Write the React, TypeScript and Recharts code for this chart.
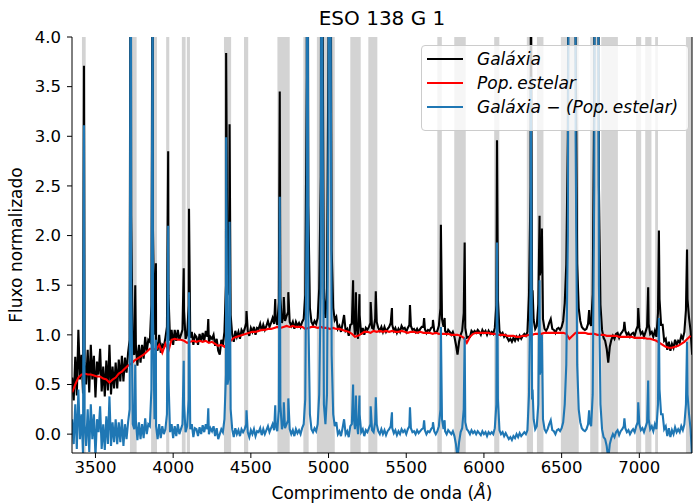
import { LineChart, Line, XAxis, YAxis, ReferenceArea } from "recharts"

const FONT = "'DejaVu Sans', 'Liberation Sans', sans-serif"

// regular 10 Å grid for the observed spectrum and the residual
const gridStart = 3350
const gridStep = 10

// Galáxia (observed, normalised flux), 3350 .. 7340 Å
const galaxyFlux = [
  0.57, 0.34, 0.78, 0.39, 1.05, 0.55, 0.80, 0.41, 0.72, 0.50,
  0.85, 0.42, 0.90, 0.55, 0.79, 0.37, 0.73, 0.60, 0.86, 0.43,
  0.68, 0.38, 0.74, 0.44, 0.90, 0.40, 0.68, 0.46, 0.72, 0.46,
  0.75, 0.53, 0.79, 0.53, 0.77, 0.62, 0.82, 0.95, 2.20, 0.83,
  0.80, 0.90, 0.69, 0.90, 0.72, 0.90, 0.76, 0.98, 0.83, 0.95,
  0.93, 1.30, 2.05, 1.00, 0.93, 0.84, 1.00, 0.82, 0.90, 0.88,
  0.97, 1.08, 1.40, 0.94, 1.05, 0.90, 1.05, 0.94, 1.05, 0.95,
  1.00, 1.05, 1.24, 0.96, 1.00, 1.30, 0.97, 1.03, 0.90, 1.00,
  0.98, 0.90, 1.01, 0.93, 1.02, 0.94, 1.04, 0.98, 0.92, 0.98,
  0.96, 1.00, 0.89, 0.96, 0.84, 0.80, 0.95, 0.90, 1.03, 1.50,
  1.40, 1.50, 1.20, 1.00, 0.93, 1.04, 0.98, 1.03, 0.96, 1.05,
  1.02, 1.06, 1.12, 1.04, 0.99, 1.07, 1.03, 1.08, 1.00, 1.07,
  1.06, 1.11, 1.04, 1.10, 1.05, 1.09, 1.14, 1.08, 1.12, 1.17,
  1.11, 1.17, 1.10, 1.33, 1.37, 1.12, 1.20, 1.14, 1.19, 1.23,
  1.13, 1.09, 1.13, 1.06, 1.13, 1.09, 1.12, 1.08, 1.13, 1.16,
  1.40, 3.60, 2.30, 1.27, 1.13, 1.10, 1.14, 1.11, 1.17, 1.47,
  2.60, 5.00, 1.37, 1.17, 1.47, 4.07, 7.06, 1.86, 1.27, 1.15,
  1.18, 1.06, 1.09, 1.03, 1.11, 1.20, 1.04, 1.06, 0.99, 1.10,
  1.11, 1.20, 1.00, 1.10, 0.96, 1.20, 1.00, 1.07, 1.00, 1.07,
  1.05, 1.08, 1.12, 1.07, 1.06, 1.16, 1.13, 1.07, 1.04, 1.08,
  1.03, 1.08, 1.03, 1.06, 1.08, 1.12, 1.10, 1.04, 1.07, 1.02,
  1.06, 1.03, 1.09, 1.06, 1.07, 1.03, 1.07, 1.10, 1.09, 1.05,
  1.06, 1.03, 1.06, 1.03, 1.06, 1.08, 1.08, 1.06, 1.02, 1.05,
  1.04, 1.07, 1.08, 1.04, 1.02, 1.04, 1.09, 1.27, 1.16, 1.08,
  1.04, 1.01, 1.05, 1.03, 1.00, 1.03, 0.98, 0.90, 0.80, 0.93,
  1.00, 1.04, 1.22, 1.07, 0.97, 0.98, 0.98, 1.04, 1.02, 1.04,
  1.02, 1.05, 1.03, 1.00, 1.05, 1.02, 1.04, 1.00, 1.04, 1.01,
  1.03, 1.01, 1.07, 1.30, 1.35, 1.04, 1.00, 1.02, 0.98, 1.00,
  0.97, 0.94, 0.96, 0.93, 0.97, 0.94, 0.98, 0.95, 0.99, 0.96,
  0.99, 1.01, 0.99, 1.03, 1.40, 2.50, 1.35, 1.15, 1.06, 1.09,
  1.31, 1.60, 1.70, 1.16, 1.06, 1.04, 1.07, 1.12, 1.16, 1.06,
  1.05, 1.02, 1.06, 1.07, 1.05, 1.08, 1.14, 1.32, 1.71, 2.99,
  6.96, 16.97, 10.0, 15.0, 4.00, 1.72, 1.27, 1.14, 1.08, 1.06,
  1.05, 1.06, 1.11, 1.13, 1.09, 1.41, 3.50, 7.00, 9.00, 2.50,
  1.30, 1.05, 0.97, 0.94, 0.86, 0.72, 0.88, 0.95, 0.99, 0.96,
  1.01, 1.02, 0.97, 1.01, 1.03, 1.06, 1.04, 1.00, 1.02, 0.98,
  1.01, 1.02, 0.99, 1.05, 1.09, 1.07, 1.01, 1.03, 0.98, 1.03,
  1.08, 1.11, 1.01, 1.03, 0.98, 1.04, 0.98, 1.22, 1.36, 1.10,
  1.10, 0.94, 0.96, 0.85, 0.93, 0.84, 0.91, 0.87, 0.95, 0.90,
  0.94, 0.92, 0.99, 0.96, 1.03, 1.25, 1.36, 1.17, 1.04, 0.80,
]

// Galáxia - (Pop. estelar), same grid
const residualFlux = [
  0.15, -0.10, 0.30, -0.15, 0.45, -0.05, 0.20, -0.20, 0.10, -0.12,
  0.25, -0.18, 0.30, -0.05, 0.20, -0.22, 0.15, 0.02, 0.28, -0.15,
  0.10, -0.16, 0.18, -0.10, 0.38, -0.12, 0.12, -0.08, 0.15, -0.10,
  0.12, -0.08, 0.15, -0.12, 0.10, -0.05, 0.12, 0.25, 1.50, 0.10,
  0.05, 0.14, -0.06, 0.12, -0.05, 0.10, -0.04, 0.16, 0.00, 0.10,
  0.08, 0.45, 1.20, 0.15, 0.08, -0.05, 0.10, -0.04, 0.08, 0.00,
  0.05, 0.20, 0.55, 0.02, 0.10, -0.04, 0.08, -0.02, 0.10, 0.00,
  0.05, 0.10, 0.30, 0.02, 0.08, 0.35, 0.05, 0.10, -0.03, 0.06,
  0.05, -0.02, 0.07, 0.00, 0.09, 0.02, 0.10, 0.05, 0.00, 0.06,
  0.03, 0.08, -0.02, 0.06, -0.05, 0.00, 0.05, 0.02, 0.15, 0.60,
  0.50, 0.60, 0.25, 0.05, -0.03, 0.06, 0.00, 0.04, -0.02, 0.05,
  0.02, 0.05, 0.10, 0.02, -0.03, 0.04, 0.00, 0.05, -0.02, 0.03,
  0.02, 0.06, -0.01, 0.05, 0.00, 0.04, 0.08, 0.02, 0.06, 0.10,
  0.04, 0.10, 0.03, 0.25, 0.30, 0.05, 0.12, 0.06, 0.10, 0.14,
  0.05, 0.00, 0.04, -0.02, 0.05, 0.01, 0.04, 0.00, 0.06, 0.10,
  0.35, 2.50, 1.20, 0.20, 0.05, 0.02, 0.06, 0.03, 0.10, 0.40,
  1.50, 4.00, 0.30, 0.10, 0.40, 3.00, 6.00, 0.80, 0.20, 0.08,
  0.12, 0.00, 0.03, -0.02, 0.06, 0.15, 0.00, 0.03, -0.03, 0.08,
  0.10, 0.20, 0.05, 0.15, 0.00, 0.20, 0.02, 0.05, -0.02, 0.04,
  0.02, 0.06, 0.10, 0.04, 0.02, 0.12, 0.10, 0.03, 0.00, 0.05,
  0.00, 0.04, -0.01, 0.03, 0.05, 0.08, 0.06, 0.01, 0.04, -0.01,
  0.03, 0.00, 0.05, 0.02, 0.04, 0.00, 0.05, 0.08, 0.06, 0.02,
  0.03, 0.00, 0.04, 0.01, 0.03, 0.05, 0.06, 0.04, 0.00, 0.03,
  0.02, 0.05, 0.07, 0.03, 0.00, 0.03, 0.08, 0.25, 0.15, 0.05,
  0.03, 0.00, 0.04, 0.02, 0.00, 0.03, -0.02, -0.10, -0.25, -0.08,
  0.02, 0.06, 0.25, 0.12, 0.05, 0.03, 0.00, 0.04, 0.01, 0.03,
  0.00, 0.03, 0.01, -0.01, 0.03, 0.00, 0.02, -0.02, 0.02, 0.00,
  0.02, 0.00, 0.06, 0.30, 0.35, 0.04, 0.00, 0.02, -0.02, 0.01,
  -0.02, -0.05, -0.03, -0.06, -0.02, -0.04, 0.00, -0.03, 0.01, -0.02,
  0.00, 0.02, 0.00, 0.04, 0.40, 1.50, 0.35, 0.15, 0.05, 0.08,
  0.30, 0.60, 0.70, 0.15, 0.05, 0.02, 0.05, 0.10, 0.14, 0.04,
  0.03, 0.00, 0.04, 0.05, 0.03, 0.06, 0.12, 0.30, 0.70, 2.00,
  6.00, 16.0, 9.00, 14.0, 3.00, 0.70, 0.25, 0.12, 0.06, 0.04,
  0.03, 0.05, 0.10, 0.12, 0.08, 0.40, 2.50, 6.00, 8.00, 1.50,
  0.30, 0.05, -0.03, -0.05, -0.12, -0.25, -0.10, -0.04, 0.00, -0.03,
  0.02, 0.04, -0.01, 0.03, 0.05, 0.08, 0.06, 0.02, 0.04, 0.00,
  0.03, 0.05, 0.02, 0.08, 0.12, 0.10, 0.04, 0.06, 0.02, 0.07,
  0.12, 0.15, 0.05, 0.08, 0.03, 0.10, 0.05, 0.30, 0.45, 0.20,
  0.20, 0.05, 0.08, -0.02, 0.06, -0.03, 0.04, 0.00, 0.07, 0.02,
  0.05, 0.02, 0.08, 0.04, 0.10, 0.30, 0.40, 0.20, 0.05, -0.25,
]

// emission line peaks (Å), sitting between grid points
const lineWave = [
  3426, 3727, 3756, 3868, 3889, 3968, 4068, 4102, 4226, 4341, 4363, 4472,
  4657, 4686, 4712, 4741, 4862, 4958, 5007, 5158, 5176, 5199, 5271, 5304,
  5408, 5524, 5615, 5672, 5723, 5747, 5876, 6084, 6302, 6313, 6358, 6373,
  6548, 6563, 6584, 6677, 6716, 6731, 6904, 6993, 7057, 7126, 7307,
]
const lineGalaxy = [
  3.71, 6.6, 1.5, 5.6, 1.72, 2.85, 1.67, 2.27, 1.16, 3.84, 3.12, 1.24,
  1.36, 3.45, 1.38, 1.43, 9.0, 11.0, 30.0, 1.55, 1.43, 1.41, 1.33, 1.44,
  1.27, 1.3, 1.17, 1.15, 2.11, 1.17, 1.93, 2.96, 4.6, 1.45, 2.2, 2.07,
  8.0, 26.0, 19.0, 1.25, 9.0, 9.0, 1.13, 1.27, 1.48, 2.05, 1.86,
]
const lineResidual = [
  3.11, 6.0, 0.7, 5.0, 0.95, 2.1, 0.74, 1.43, 0.26, 2.99, 2.14, 0.24,
  0.29, 2.39, 0.32, 0.36, 8.0, 10.0, 29.0, 0.5, 0.39, 0.39, 0.28, 0.37,
  0.22, 0.27, 0.14, 0.12, 1.08, 0.14, 0.97, 1.93, 3.6, 0.45, 1.55, 1.0,
  7.0, 25.0, 18.0, 0.24, 8.0, 8.0, 0.16, 0.32, 0.54, 1.17, 0.93,
]

// Pop. estelar (stellar population fit), 20 Å grid
const stellarStart = 3350
const stellarStep = 20
const stellarFlux = [
  0.42, 0.50, 0.57, 0.60, 0.61, 0.60, 0.60, 0.59, 0.58, 0.58,
  0.56, 0.55, 0.52, 0.55, 0.57, 0.61, 0.63, 0.66, 0.69, 0.71,
  0.74, 0.76, 0.78, 0.80, 0.83, 0.86, 0.86, 0.85, 0.90, 0.82,
  0.91, 0.84, 0.95, 0.96, 0.95, 0.95, 0.94, 0.92, 0.93, 0.94,
  0.93, 0.94, 0.93, 0.94, 0.92, 0.93, 0.91, 0.89, 0.90, 0.88,
  0.92, 0.94, 0.97, 0.98, 0.99, 1.00, 1.01, 1.02, 1.03, 1.03,
  1.04, 1.05, 1.05, 1.06, 1.06, 1.07, 1.08, 1.07, 1.08, 1.09,
  1.08, 1.09, 1.08, 1.08, 1.08, 1.06, 1.07, 1.08, 1.08, 1.07,
  1.08, 1.07, 1.07, 1.06, 1.07, 1.06, 1.06, 1.05, 1.04, 1.03,
  1.01, 0.98, 0.99, 1.01, 1.03, 1.03, 1.02, 1.04, 1.03, 1.04,
  1.03, 1.04, 1.03, 1.04, 1.03, 1.03, 1.04, 1.03, 1.02, 1.03,
  1.03, 1.02, 1.03, 1.02, 1.02, 1.02, 1.01, 1.02, 1.01, 1.01,
  1.01, 1.01, 1.00, 1.00, 1.00, 0.99, 0.97, 0.92, 0.98, 1.01,
  1.02, 1.02, 1.02, 1.02, 1.02, 1.01, 1.01, 1.00, 1.00, 1.00,
  0.99, 0.99, 0.99, 0.98, 0.98, 0.99, 0.99, 1.00, 1.00, 1.01,
  1.01, 1.01, 1.02, 1.02, 1.02, 1.02, 1.02, 1.02, 1.02, 1.01,
  0.96, 0.99, 1.02, 1.02, 1.02, 1.02, 1.01, 1.01, 1.01, 1.00,
  1.00, 1.00, 0.99, 0.99, 0.99, 0.99, 0.98, 0.98, 0.98, 0.98,
  0.98, 0.97, 0.97, 0.97, 0.97, 0.96, 0.96, 0.95, 0.94, 0.92,
  0.90, 0.88, 0.87, 0.87, 0.88, 0.89, 0.91, 0.93, 0.96, 0.99,
]

// masked (grey) wavelength windows
const maskStart = [
  3413, 3722, 3858, 3955, 4056, 4088, 4327, 4456, 4671, 4838, 4925, 5140, 5256,
  5700, 5809, 6066, 6276, 6341, 6495, 6684, 6755, 6979, 7038, 7102, 7300,
]
const maskEnd = [
  3437, 3765, 3896, 3975, 4080, 4108, 4373, 4483, 4750, 4872, 5040, 5207, 5314,
  5729, 5883, 6099, 6316, 6383, 6610, 6737, 6862, 7012, 7078, 7120, 7349,
]

const xTicks = [3500, 4000, 4500, 5000, 5500, 6000, 6500, 7000]
const yTicks = [0, 0.5, 1, 1.5, 2, 2.5, 3, 3.5, 4]
const xDomain = [3349, 7339]
const yDomain = [-0.19, 4]

function buildSeries(grid: number[], peaks: number[]) {
  const pts = grid.map((v, i) => ({ w: gridStart + i * gridStep, v }))
  lineWave.forEach((w, i) => pts.push({ w, v: peaks[i] }))
  pts.sort((a, b) => a.w - b.w)
  return pts
}

const legendItems = [
  { color: "#000000", label: "Galáxia" },
  { color: "#ff0000", label: "Pop.\u2009estelar" },
  { color: "#1f77b4", label: "Galáxia \u2212 (Pop.\u2009estelar)" },
]

const LW = 2.1

export default function App() {
  const galaxy = buildSeries(galaxyFlux, lineGalaxy)
  const residual = buildSeries(residualFlux, lineResidual)
  const stellar = stellarFlux.map((v, i) => ({ w: stellarStart + i * stellarStep, v }))

  const tickStyle = { fill: "#000", fontSize: 16.5, fontFamily: FONT }

  return (
    <div style={{ position: "absolute", left: 0, top: 0, width: 693, height: 504, background: "#fff", fontFamily: FONT }}>
      <LineChart width={693} height={504} margin={{ top: 37, right: 0, bottom: 0, left: 0 }}>
        {maskStart.map((x1, i) => (
          <ReferenceArea key={i} x1={x1} x2={maskEnd[i]} fill="#d3d3d3" fillOpacity={1} stroke="none" ifOverflow="hidden" />
        ))}
        <XAxis
          type="number"
          dataKey="w"
          domain={xDomain}
          allowDataOverflow
          ticks={xTicks}
          height={51}
          tickSize={5}
          tickMargin={3}
          stroke="#000"
          tick={tickStyle}
        />
        <XAxis xAxisId="top" orientation="top" type="number" domain={xDomain} allowDataOverflow tick={false} tickLine={false} height={0} stroke="#000" />
        <YAxis
          type="number"
          domain={yDomain}
          allowDataOverflow
          ticks={yTicks}
          width={72}
          tickSize={5}
          tickMargin={6}
          stroke="#000"
          tick={tickStyle}
          tickFormatter={(v: number) => v.toFixed(1)}
        />
        <YAxis yAxisId="right" orientation="right" type="number" domain={yDomain} allowDataOverflow tick={false} tickLine={false} width={1} stroke="#000" />
        <Line data={galaxy} dataKey="v" type="linear" stroke="#000000" strokeWidth={LW} dot={false} isAnimationActive={false} />
        <Line data={stellar} dataKey="v" type="linear" stroke="#ff0000" strokeWidth={LW} dot={false} isAnimationActive={false} />
        <Line data={residual} dataKey="v" type="linear" stroke="#1f77b4" strokeWidth={LW} dot={false} isAnimationActive={false} />
      </LineChart>

      <svg width={693} height={504} style={{ position: "absolute", left: 0, top: 0, pointerEvents: "none" }}>
        <text x={382} y={25} textAnchor="middle" fontSize={20} fontFamily={FONT} fill="#000">ESO 138 G 1</text>
        <text x={382} y={499} textAnchor="middle" fontSize={17} fontFamily={FONT} fill="#000">
          Comprimento de onda (<tspan fontStyle="italic">Å</tspan>)
        </text>
        <text x={22} y={245} textAnchor="middle" fontSize={17} fontFamily={FONT} fill="#000" transform="rotate(-90 22 245)">
          Fluxo normalizado
        </text>
      </svg>

      <div
        style={{
          position: "absolute",
          left: 421,
          top: 45,
          width: 268,
          height: 86,
          border: "1px solid #cccccc",
          borderRadius: 4,
          background: "rgba(255,255,255,0.8)",
          boxSizing: "border-box",
        }}
      >
        {legendItems.map((it, i) => (
          <div key={i} style={{ position: "absolute", left: 5, top: 2 + i * 24, height: 22, display: "flex", alignItems: "center" }}>
            <div style={{ width: 36, height: 0, borderTop: `2px solid ${it.color}` }} />
            <span style={{ marginLeft: 14, fontSize: 17, fontStyle: "italic", color: "#000", whiteSpace: "nowrap" }}>{it.label}</span>
          </div>
        ))}
      </div>
    </div>
  )
}
